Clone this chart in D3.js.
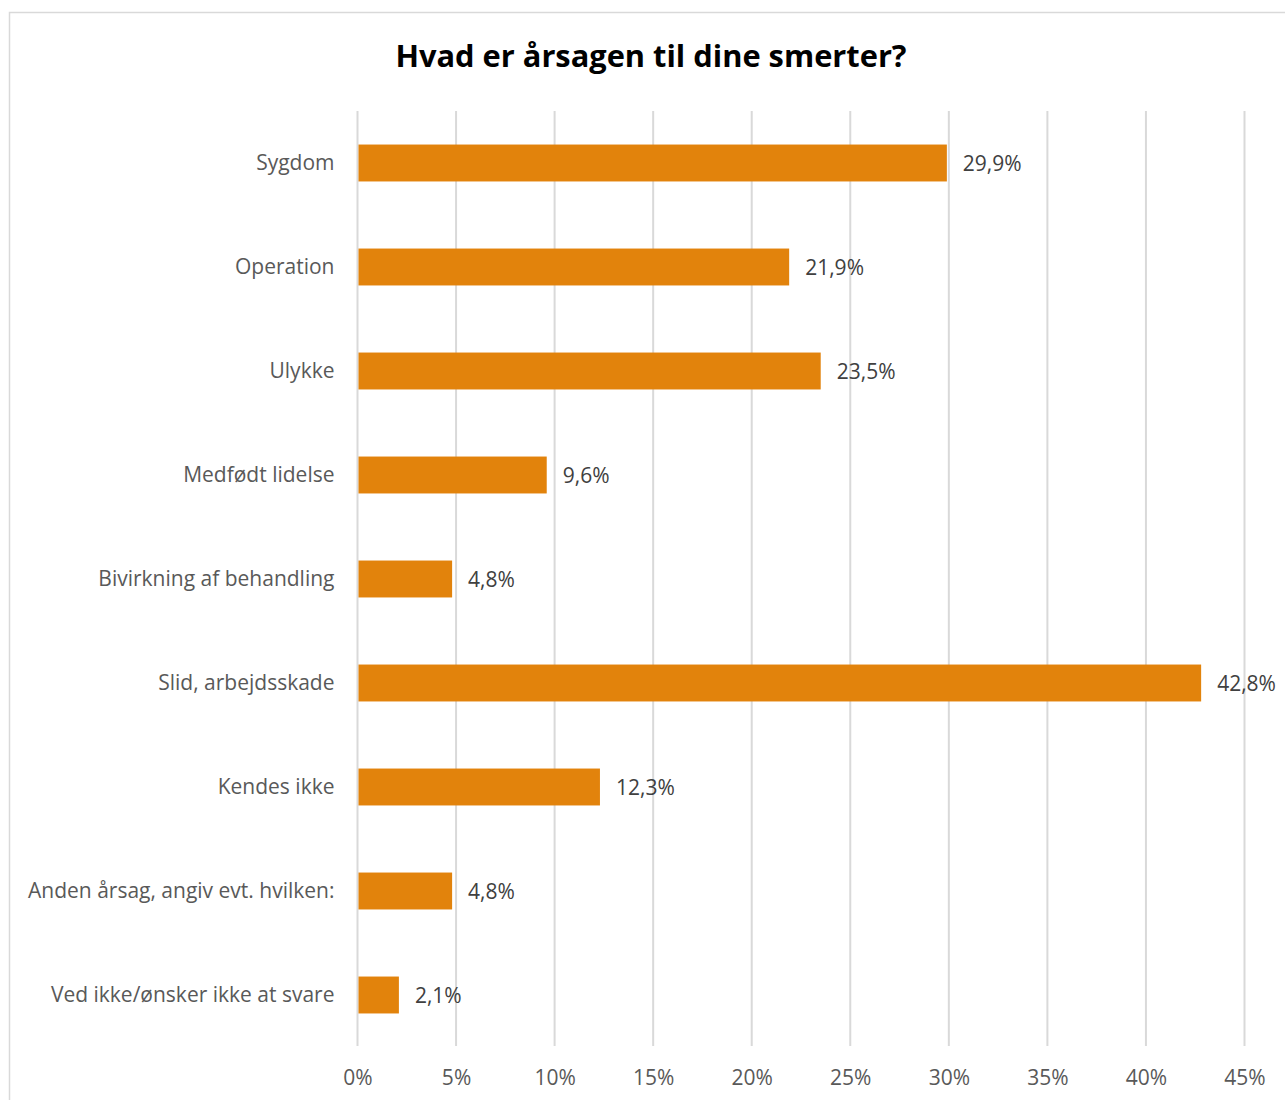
<!DOCTYPE html>
<html><head><meta charset="utf-8">
<script src="https://cdn.jsdelivr.net/npm/d3@7"></script>
<style>body{margin:0;background:#fff;} svg{display:block;}</style>
</head><body>
<svg id="c" width="1285" height="1100"></svg>
<script>
const title = "Hvad er årsagen til dine smerter?";
const categories = ["Sygdom","Operation","Ulykke","Medfødt lidelse","Bivirkning af behandling","Slid, arbejdsskade","Kendes ikke","Anden årsag, angiv evt. hvilken:","Ved ikke/ønsker ikke at svare"];
const values = [29.9,21.9,23.5,9.6,4.8,42.8,12.3,4.8,2.1];
const tickValues = [0,5,10,15,20,25,30,35,40,45];

const svg = d3.select("#c");
const font = "'Open Sans', 'Noto Sans', sans-serif";
svg.append("rect").attr("x",9.5).attr("y",12.5).attr("width",1290).attr("height",1100)
  .attr("fill","#fff").attr("stroke","#d9d9d9").attr("stroke-width",1.5);

svg.append("text").attr("x",651).attr("y",67).attr("text-anchor","middle")
  .attr("font-family",font).attr("font-weight","bold").attr("font-size",30.8).attr("fill","#000").text(title);

const x = d3.scaleLinear().domain([0,45]).range([357.5,1244.5]);
const y = d3.scaleBand().domain(categories).range([111,1047]).paddingInner(0.645).paddingOuter(0.3225);

const grid = svg.append("g");
grid.selectAll("line").data(tickValues).join("line")
  .attr("x1",d=>x(d)).attr("x2",d=>x(d)).attr("y1",111).attr("y2",1046)
  .attr("stroke","#d9d9d9").attr("stroke-width",2);

const xAxis = svg.append("g").attr("transform","translate(0,1046)")
  .call(d3.axisBottom(x).tickValues(tickValues).tickFormat(d=>d+"%").tickSize(0).tickPadding(24));
xAxis.select(".domain").remove();
xAxis.selectAll("text").attr("font-family",font).attr("font-size",21).attr("fill","#595959");

const yAxis = svg.append("g").attr("transform","translate(357.5,0)")
  .call(d3.axisLeft(y).tickSize(0).tickPadding(23));
yAxis.select(".domain").remove();
yAxis.selectAll("text").attr("font-family",font).attr("font-size",21).attr("fill","#595959");

svg.append("g").selectAll("rect").data(categories).join("rect")
  .attr("x",x(0)+1).attr("y",d=>y(d)).attr("height",y.bandwidth())
  .attr("width",(d,i)=>x(values[i])-x(0)-1).attr("fill","#E2830C");

svg.append("g").selectAll("text").data(categories).join("text")
  .attr("x",(d,i)=>x(values[i])+16).attr("y",d=>y(d)+y.bandwidth()/2+1).attr("dy","0.35em")
  .attr("font-family",font).attr("font-size",21).attr("fill","#404040")
  .text((d,i)=>d3.format(".1f")(values[i]).replace(".",",")+"%");
</script>
</body></html>
